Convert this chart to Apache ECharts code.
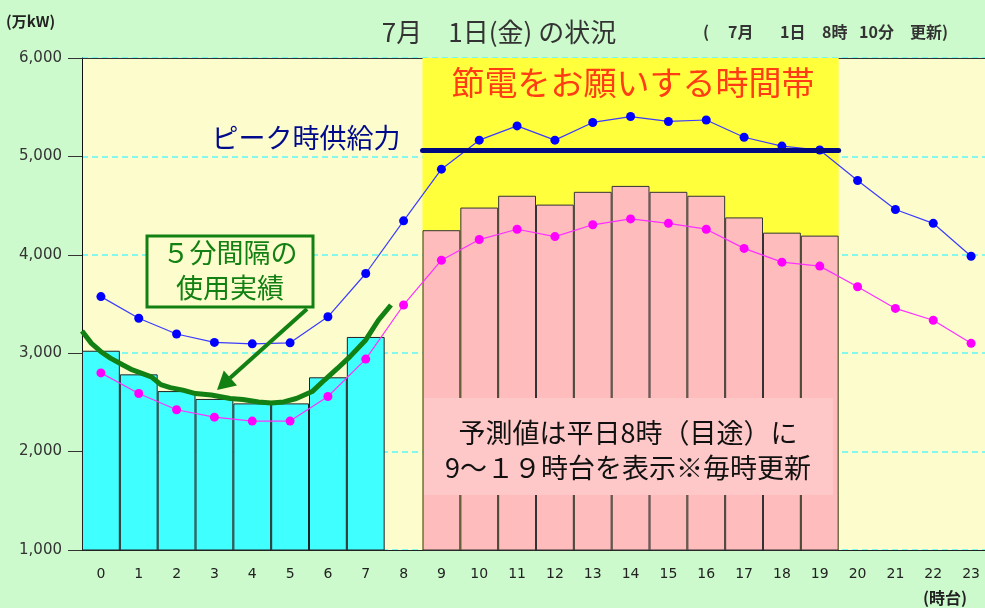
<!DOCTYPE html>
<html>
<head>
<meta charset="utf-8">
<title>7月1日(金)の状況</title>
<script src="https://cdn.jsdelivr.net/npm/echarts@6.0.0/dist/echarts.min.js"></script>
<style>
  html, body { margin: 0; padding: 0; background: #ccfacc; }
  #chart { width: 985px; height: 608px; }
</style>
</head>
<body>
<div id="chart"></div>
<script>
// 時台 (x軸)
var hours = ['0', '1', '2', '3', '4', '5', '6', '7', '8', '9', '10', '11',
  '12', '13', '14', '15', '16', '17', '18', '19', '20', '21', '22', '23']
var yTicks = [1000, 2000, 3000, 4000, 5000, 6000]

// 使用実績（0〜7時台）
var actualHourly = [3025, 2785, 2615, 2535, 2490, 2490, 2755, 3165]
// 予測値（9〜19時台）
var forecastStart = 9
var forecastHourly = [4250, 4480, 4600, 4510, 4640, 4700, 4640, 4600, 4380, 4225, 4195]

// 青線・ピンク線（毎時）
var blueLine = [3575, 3355, 3195, 3110, 3095, 3105, 3370, 3810, 4345, 4870, 5165, 5310,
  5165, 5345, 5405, 5355, 5370, 5195, 5105, 5065, 4755, 4460, 4320, 3985]
var pinkLine = [2800, 2590, 2425, 2350, 2310, 2310, 2560, 2940, 3490, 3945, 4155, 4260,
  4185, 4305, 4365, 4320, 4260, 4065, 3925, 3885, 3675, 3455, 3335, 3100]

// 5分間隔の使用実績（分, 万kW）
var actualMinutes = [0, 15, 30, 45, 65, 80, 95, 110, 125, 140, 160, 180, 205, 235,
  255, 280, 300, 320, 340, 365, 385, 405, 425, 450, 470, 490]
var actual5min = [3225, 3100, 3015, 2950, 2880, 2830, 2795, 2760, 2680, 2650, 2625, 2590, 2575, 2540,
  2530, 2505, 2495, 2505, 2540, 2610, 2730, 2845, 2965, 3135, 3335, 3490]

// ピーク時供給力と節電時間帯（分）
var peakSupply = 5060
var bandStart = 540
var bandEnd = 1200

var jp = '"Noto Sans CJK JP", sans-serif'
var green = '#128012'

var chart = echarts.init(document.getElementById('chart'))

var actualBars = hours.map(function (h, i) {
  return i < actualHourly.length ? actualHourly[i] : '-'
})
var forecastBars = hours.map(function (h, i) {
  var k = i - forecastStart
  return k >= 0 && k < forecastHourly.length ? forecastHourly[k] : '-'
})

function txt(x, y, text, font, fill, align) {
  return {
    type: 'text', x: x, y: y, z: 11,
    style: {
      text: text, font: font, fill: fill,
      textAlign: align || 'center', align: align || 'center',
      textVerticalAlign: 'middle', verticalAlign: 'middle'
    }
  }
}

var option = {
  backgroundColor: '#ccfacc',
  animation: false,
  grid: {
    left: 82, right: -5, top: 58, bottom: 58,
    show: true, backgroundColor: '#fcfccc', borderWidth: 0,
    outerBoundsMode: 'none'
  },
  xAxis: [
    {
      type: 'category', data: hours, boundaryGap: true,
      axisLine: { onZero: false, lineStyle: { color: '#222' } },
      axisTick: { inside: true, length: 5, lineStyle: { color: '#333' } },
      axisLabel: { interval: 0, margin: 17, fontSize: 14, color: '#222', fontFamily: 'DejaVu Sans' },
      splitLine: { show: false }
    },
    {
      // 5分データ用（分）
      type: 'value', min: 0, max: 1440, position: 'top',
      axisLine: { show: true, onZero: false, lineStyle: { color: '#333' } },
      axisTick: { show: false }, axisLabel: { show: false }, splitLine: { show: false }
    }
  ],
  yAxis: {
    type: 'value', min: yTicks[0], max: yTicks[yTicks.length - 1], interval: 1000,
    axisLine: { show: true, onZero: false, lineStyle: { color: '#111' } },
    axisTick: { show: true, length: 14, lineStyle: { color: '#333' } },
    axisLabel: {
      margin: 20, fontSize: 15, color: '#333', fontFamily: 'DejaVu Sans',
      formatter: function (v) { return v.toLocaleString('en-US') }
    },
    splitLine: { lineStyle: { type: [6, 4], width: 1.6, color: '#5cf6f6' } }
  },
  series: [
    {
      // 節電をお願いする時間帯
      type: 'line', xAxisIndex: 1, data: [], z: 1, silent: true,
      markArea: {
        silent: true,
        itemStyle: { color: '#ffff3c' },
        data: [[{ xAxis: bandStart }, { xAxis: bandEnd }]]
      }
    },
    {
      name: '使用実績', type: 'bar', data: actualBars, barWidth: '100%', barGap: '-100%', z: 2,
      itemStyle: { color: '#40ffff', borderColor: '#222', borderWidth: 1 }
    },
    {
      name: '予測値', type: 'bar', data: forecastBars, barWidth: '100%', barGap: '-100%', z: 2,
      itemStyle: { color: '#ffbcbc', borderColor: '#333', borderWidth: 1 }
    },
    {
      type: 'line', data: blueLine, symbol: 'circle', symbolSize: 9, z: 3,
      itemStyle: { color: '#0000ff' }, lineStyle: { color: '#3c3cff', width: 1.2 }
    },
    {
      type: 'line', data: pinkLine, symbol: 'circle', symbolSize: 9, z: 3,
      itemStyle: { color: '#ff00ff' }, lineStyle: { color: '#ff30ff', width: 1.2 }
    },
    {
      name: '5分間隔の使用実績', type: 'line', xAxisIndex: 1, z: 4,
      data: actualMinutes.map(function (m, i) { return [m, actual5min[i]] }),
      symbol: 'none', lineStyle: { color: green, width: 5 },
      markLine: {
        silent: true, symbol: 'none', label: { show: false },
        lineStyle: { color: '#000a80', width: 5, type: 'solid', cap: 'round' },
        data: [[{ coord: [bandStart, peakSupply] }, { coord: [bandEnd, peakSupply] }]]
      }
    }
  ],
  graphic: [
    txt(6, 21, '(万kW)', 'bold 15px ' + jp, '#222', 'left'),
    txt(499, 32, '7月　1日(金) の状況', '26px ' + jp, '#333'),
    // 更新時刻
    txt(703, 32, '(', 'bold 16px ' + jp, '#333', 'left'),
    txt(728, 32, '7月', 'bold 16px ' + jp, '#333', 'left'),
    txt(780, 32, '1日', 'bold 16px ' + jp, '#333', 'left'),
    txt(822, 32, '8時', 'bold 16px ' + jp, '#333', 'left'),
    txt(859, 32, '10分', 'bold 16px ' + jp, '#333', 'left'),
    txt(910, 32, '更新)', 'bold 16px ' + jp, '#333', 'left'),
    txt(945, 598, '(時台)', 'bold 16px ' + jp, '#222'),
    txt(633, 82, '節電をお願いする時間帯', '33px ' + jp, '#ff3c14'),
    txt(306, 138, 'ピーク時供給力', '27px ' + jp, '#000a8c'),
    // 5分間隔の使用実績 の枠と矢印
    { type: 'rect', z: 10, shape: { x: 147, y: 236, width: 166, height: 71 }, style: { fill: '#fcfccc', stroke: green, lineWidth: 3 } },
    txt(230, 253, '５分間隔の', '27px ' + jp, green),
    txt(230, 288, '使用実績', '27px ' + jp, green),
    { type: 'line', z: 10, shape: { x1: 307, y1: 309, x2: 230, y2: 378 }, style: { stroke: green, lineWidth: 4 } },
    { type: 'polygon', z: 10, shape: { points: [[217, 390], [237, 385.5], [223.8, 370.5]] }, style: { fill: green } },
    // 予測値の説明
    { type: 'rect', z: 10, shape: { x: 424, y: 398, width: 409, height: 97 }, style: { fill: '#ffc8c8' } },
    txt(628, 433, '予測値は平日8時（目途）に', '27px ' + jp, '#111'),
    txt(628, 468, '9～１９時台を表示※毎時更新', '27px ' + jp, '#111')
  ]
}

chart.setOption(option)
</script>
</body>
</html>
